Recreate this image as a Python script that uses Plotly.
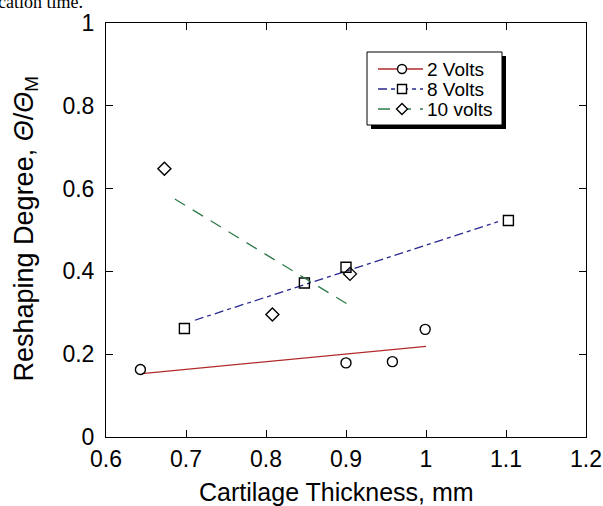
import plotly.graph_objects as go

# ---- data ----
x_2v = [0.643, 0.900, 0.958, 0.999]
y_2v = [0.163, 0.179, 0.182, 0.260]
x_8v = [0.698, 0.848, 0.900, 1.103]
y_8v = [0.262, 0.372, 0.410, 0.523]
x_10v = [0.673, 0.808, 0.905]
y_10v = [0.648, 0.296, 0.394]

# fitted lines (end points)
fit2_x = [0.645, 1.000]
fit2_y = [0.153, 0.219]
fit8_x = [0.711, 1.090]
fit8_y = [0.282, 0.520]
fit10_x = [0.686, 0.906]
fit10_y = [0.575, 0.316]

x_ticks = [0.6, 0.7, 0.8, 0.9, 1.0, 1.1, 1.2]
x_ticktext = ["0.6", "0.7", "0.8", "0.9", "1", "1.1", "1.2"]
y_ticks = [0, 0.2, 0.4, 0.6, 0.8, 1.0]
y_ticktext = ["0", "0.2", "0.4", "0.6", "0.8", "1"]

names = ["2 Volts", "8 Volts", "10 volts"]
colors = ["#b22a2a", "#28288f", "#2e7a4a"]
symbols = ["circle-open", "square-open", "diamond-open"]
dashes = ["solid", "9px,4px,4px,4px", "12px,9px"]

FONT = "Liberation Sans, Arial, sans-serif"

# plot-area geometry in pixels (used only to place layout items)
W, H = 603, 506
L, R, T, B = 106, 17, 23, 69
PW, PH = W - L - R, H - T - B


def px(xp):
    return (xp - L) / PW


def py(yp):
    return (H - B - yp) / PH


fig = go.Figure()

series = [(x_2v, y_2v, fit2_x, fit2_y), (x_8v, y_8v, fit8_x, fit8_y),
          (x_10v, y_10v, fit10_x, fit10_y)]
for i, (xs, ys, fx, fy) in enumerate(series):
    fig.add_trace(go.Scatter(x=fx, y=fy, mode="lines", showlegend=False,
                             line=dict(color=colors[i], width=1.3, dash=dashes[i]),
                             hoverinfo="skip"))
    fig.add_trace(go.Scatter(x=xs, y=ys, mode="markers", name=names[i], showlegend=False,
                             marker=dict(symbol=symbols[i], size=10, color="black",
                                         line=dict(width=1.4, color="black"))))

axis_common = dict(showline=True, linecolor="black", linewidth=1, mirror="ticks",
                   ticks="inside", ticklen=7, tickcolor="black", tickwidth=1,
                   showgrid=False, zeroline=False, automargin=False,
                   tickfont=dict(family=FONT, size=23, color="black"))

fig.update_xaxes(range=[0.6, 1.2], tickvals=x_ticks, ticktext=x_ticktext,
                 ticklabelstandoff=1, **axis_common)
fig.update_yaxes(range=[0, 1], tickvals=y_ticks, ticktext=y_ticktext,
                 ticklabelstandoff=6, **axis_common)

# ---- legend box (drawn by hand, with its shadow) ----
fig.add_shape(type="rect", xref="paper", yref="paper",
              x0=px(371), x1=px(506), y0=py(129), y1=py(56),
              fillcolor="black", line=dict(width=0), layer="above")
fig.add_shape(type="rect", xref="paper", yref="paper",
              x0=px(367), x1=px(502), y0=py(125), y1=py(52),
              fillcolor="white", line=dict(width=1, color="black"), layer="above")
rows = [69, 89, 109]
for i, yr in enumerate(rows):
    fig.add_shape(type="line", xref="paper", yref="paper",
                  x0=px(378), x1=px(423), y0=py(yr), y1=py(yr),
                  line=dict(color=colors[i], width=1.3, dash=dashes[i]), layer="above")
    cx = 402
    r = 4.5
    if i == 0:
        fig.add_shape(type="circle", xref="paper", yref="paper",
                      x0=px(cx - r), x1=px(cx + r), y0=py(yr + r), y1=py(yr - r),
                      fillcolor="white", line=dict(color="black", width=1.4), layer="above")
    elif i == 1:
        fig.add_shape(type="rect", xref="paper", yref="paper",
                      x0=px(cx - r), x1=px(cx + r), y0=py(yr + r), y1=py(yr - r),
                      fillcolor="white", line=dict(color="black", width=1.4), layer="above")
    else:
        d = 5.5
        path = (f"M {px(cx - d)} {py(yr)} L {px(cx)} {py(yr - d)} "
                f"L {px(cx + d)} {py(yr)} L {px(cx)} {py(yr + d)} Z")
        fig.add_shape(type="path", xref="paper", yref="paper", path=path,
                      fillcolor="white", line=dict(color="black", width=1.4), layer="above")
    fig.add_annotation(xref="paper", yref="paper", x=px(425), y=py(yr),
                       text=names[i], showarrow=False, xanchor="left", yanchor="middle",
                       font=dict(family=FONT, size=19, color="black"))

# ---- axis titles ----
fig.add_annotation(xref="paper", yref="paper", x=px(336), y=py(492),
                   text="Cartilage Thickness, mm", showarrow=False,
                   xanchor="center", yanchor="middle",
                   font=dict(family=FONT, size=25, color="black"))
fig.add_annotation(xref="paper", yref="paper", x=px(25), y=py(384),
                   text="Reshaping Degree, <i>Θ</i>/<i>Θ</i><sub>M</sub>",
                   textangle=-90, showarrow=False, xanchor="center", yanchor="bottom",
                   font=dict(family=FONT, size=27, color="black"))

# caption fragment cut by the top edge
fig.add_annotation(xref="paper", yref="paper", x=px(-4), y=py(14),
                   text="cation time.", showarrow=False, xanchor="left", yanchor="bottom",
                   font=dict(family="Liberation Serif, serif", size=18, color="black"))

fig.update_layout(
    width=W, height=H,
    margin=dict(l=L, r=R, t=T, b=B),
    paper_bgcolor="white", plot_bgcolor="white",
    showlegend=False,
)

fig.write_html("out.html", config={"displayModeBar": False},
               post_script="document.body.style.margin='0';"
                           "document.body.style.overflow='hidden';")
